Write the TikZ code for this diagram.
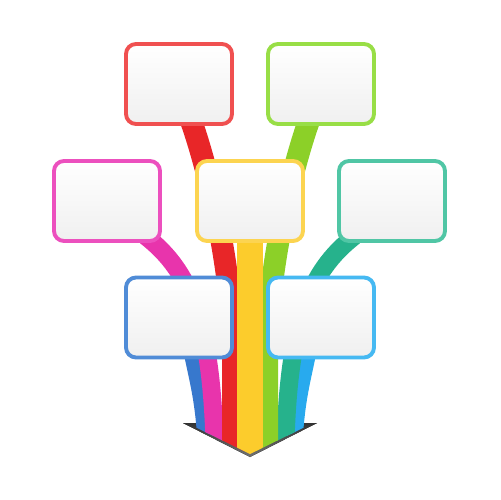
\documentclass[tikz,border=0pt]{standalone}
\usepackage{tikz}
\usetikzlibrary{shapes,arrows,positioning,calc,shadows}
\pgfdeclarelayer{background}
\pgfsetlayers{background,main}
\definecolor{edgered}{RGB}{240,80,80}
\definecolor{edgegreen}{RGB}{152,222,70}
\definecolor{edgemagenta}{RGB}{236,80,190}
\definecolor{edgeyellow}{RGB}{252,212,80}
\definecolor{edgeteal}{RGB}{80,198,165}
\definecolor{edgeblue}{RGB}{80,140,215}
\definecolor{edgesky}{RGB}{70,185,242}
\definecolor{bandred}{RGB}{232,38,40}
\definecolor{bandgreen}{RGB}{140,208,40}
\definecolor{bandmagenta}{RGB}{232,52,172}
\definecolor{bandyellow}{RGB}{252,204,44}
\definecolor{bandteal}{RGB}{38,178,140}
\definecolor{bandblue}{RGB}{55,120,205}
\definecolor{bandsky}{RGB}{40,170,238}
\begin{document}
\begin{tikzpicture}[x=0.02cm, y=-0.02cm,
  infobox/.style={draw=#1, line width=2.2pt, rounded corners=0.2cm,
    minimum width=2.12cm, minimum height=1.6cm,
    top color=white, bottom color=gray!12,
    drop shadow={opacity=0.15, shadow xshift=0.3pt, shadow yshift=-0.8pt}},
  band/.style={draw=#1, line width=0.32cm},
  wideband/.style={draw=#1, line width=0.44cm},
  arrowhead/.style={top color=black!80, bottom color=black!55}]
  \useasboundingbox (0,0) rectangle (500,500);

  \node[infobox=edgered] (redbox) at (179,84) {};
  \node[infobox=edgegreen] (greenbox) at (321,84) {};
  \node[infobox=edgemagenta] (magentabox) at (107,201) {};
  \node[infobox=edgeyellow] (yellowbox) at (250,201) {};
  \node[infobox=edgeteal] (tealbox) at (392,201) {};
  \node[infobox=edgeblue] (bluebox) at (179,317.5) {};
  \node[infobox=edgesky] (skybox) at (321,317.5) {};

  \coordinate (bluefoot) at (206,470);
  \coordinate (skyfoot) at (294,470);
  \coordinate (magentafoot) at (215,470);
  \coordinate (tealfoot) at (285,470);
  \coordinate (redfoot) at (233,470);
  \coordinate (greenfoot) at (267,470);
  \coordinate (yellowfoot) at (250,470);

  \begin{pgfonlayer}{background}
    \fill[white] (0,0) rectangle (500,500);
    \fill[arrowhead] (183,423) -- (317,423) -- (250,457) -- cycle;
    \begin{scope}
      % ribbons end in a chevron above the grey tip
      \clip (140,100) -- (360,100) -- (360,400) -- (250,454) -- (140,400) -- cycle;
      \draw[band=bandblue] ($(bluebox.center)+(9,12.5)$) .. controls (194,375) and (206,395) .. (bluefoot);
      \draw[band=bandsky] ($(skybox.center)+(-9,12.5)$) .. controls (306,375) and (294,395) .. (skyfoot);
      \draw[band=bandmagenta, line width=0.36cm] ($(magentabox.center)+(33,31)$) .. controls (190,268) and (214,320) .. (magentafoot);
      \draw[band=bandteal, line width=0.36cm] ($(tealbox.center)+(-32,31)$) .. controls (310,268) and (286,320) .. (tealfoot);
      \draw[wideband=bandred] ($(redbox.center)+(8,26)$) .. controls (203,150) and (233,260) .. (233,360) -- (redfoot);
      \draw[wideband=bandgreen] ($(greenbox.center)+(-8,26)$) .. controls (297,150) and (267,260) .. (267,360) -- (greenfoot);
      \draw[draw=bandyellow, line width=0.52cm] (yellowbox.center) -- (yellowfoot);
    \end{scope}
  \end{pgfonlayer}
\end{tikzpicture}
\end{document}
